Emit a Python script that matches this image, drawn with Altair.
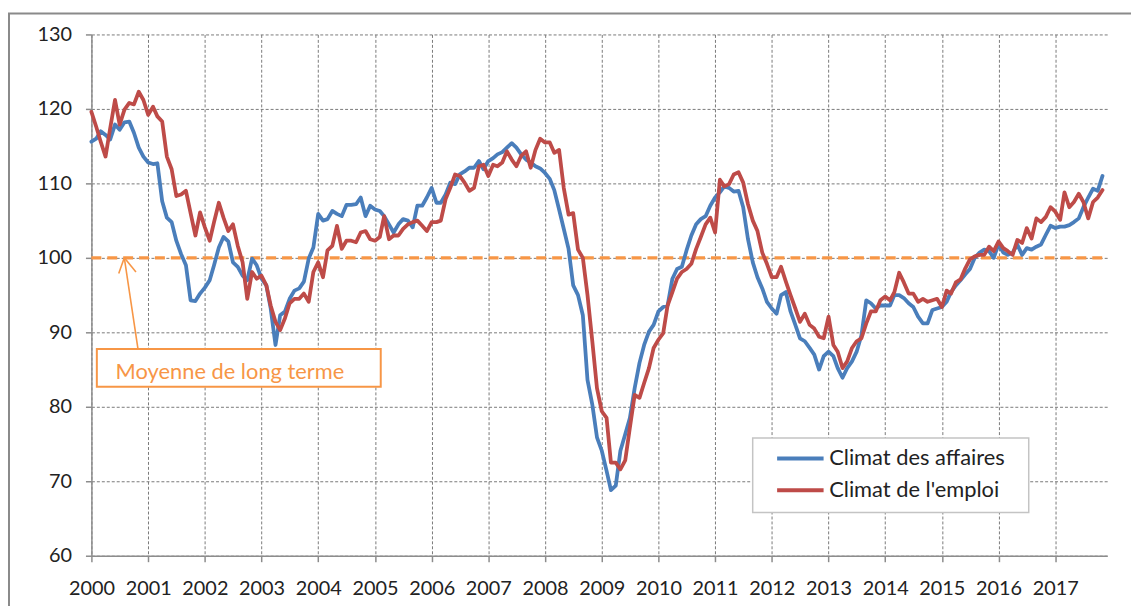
import altair as alt
import pandas as pd

# Monthly values, Jan 2000 .. Nov 2017
climat_affaires = [
    115.6, 116.0, 117.0, 116.5, 115.9, 117.9, 117.2, 118.2, 118.3, 116.8, 114.8, 113.6,  # 2000
    112.8, 112.6, 112.7, 107.6, 105.4, 104.8, 102.3, 100.5, 99.0, 94.3, 94.2, 95.2,      # 2001
    96.0, 97.0, 99.0, 101.4, 102.8, 102.2, 99.4, 98.8, 97.6, 97.0, 99.9, 99.0,           # 2002
    97.2, 96.3, 93.2, 88.3, 92.3, 92.8, 94.5, 95.6, 95.9, 96.8, 99.9, 101.4,             # 2003
    105.9, 105.0, 105.2, 106.3, 105.9, 105.6, 107.1, 107.1, 107.2, 108.1, 105.6, 107.0,  # 2004
    106.5, 106.3, 105.6, 104.5, 103.4, 104.5, 105.2, 105.0, 104.1, 107.0, 107.0, 108.1,  # 2005
    109.4, 107.4, 107.4, 108.5, 110.1, 109.9, 111.2, 111.6, 112.1, 112.1, 113.0, 111.9,  # 2006
    113.0, 113.4, 113.9, 114.2, 114.8, 115.4, 114.8, 113.9, 113.2, 112.8, 112.3, 112.0,  # 2007
    111.4, 110.6, 109.1, 106.5, 103.9, 101.2, 96.3, 95.0, 92.3, 83.6, 80.3, 75.9,        # 2008
    74.1, 71.4, 68.8, 69.4, 74.1, 76.3, 78.5, 82.5, 85.9, 88.3, 90.1, 91.0,              # 2009
    92.8, 93.4, 93.6, 97.2, 98.5, 98.8, 101.0, 103.0, 104.5, 105.2, 105.6, 107.0,        # 2010
    108.1, 108.8, 109.6, 109.4, 108.9, 109.0, 106.8, 102.5, 99.4, 97.4, 95.9, 94.1,      # 2011
    93.2, 92.5, 95.0, 95.4, 92.8, 91.0, 89.2, 88.8, 87.9, 87.0, 85.0, 86.8,              # 2012
    87.4, 86.8, 85.2, 83.9, 85.2, 86.1, 87.4, 89.6, 94.3, 93.9, 93.2, 93.6,              # 2013
    93.6, 93.6, 95.0, 95.0, 94.6, 93.9, 93.4, 92.1, 91.2, 91.2, 93.0, 93.2,              # 2014
    93.4, 94.1, 95.4, 96.3, 97.0, 97.8, 98.5, 100.0, 100.7, 101.1, 100.9, 100.0,         # 2015
    101.8, 100.7, 100.4, 100.7, 101.8, 100.4, 101.3, 101.1, 101.5, 101.8, 103.1, 104.3,  # 2016
    104.0, 104.2, 104.2, 104.4, 104.8, 105.3, 106.8, 108.1, 109.3, 109.0, 111.0,         # 2017
]

climat_emploi = [
    119.6, 117.6, 115.6, 113.6, 117.4, 121.2, 117.9, 119.9, 120.8, 120.6, 122.3, 121.2,  # 2000
    119.2, 120.3, 119.0, 118.3, 113.6, 111.9, 108.3, 108.5, 109.0, 106.0, 103.0, 106.1,  # 2001
    104.1, 102.3, 104.8, 107.4, 105.4, 103.6, 104.5, 101.6, 99.4, 94.5, 98.1, 97.2,      # 2002
    97.6, 96.3, 93.6, 91.4, 90.3, 91.9, 93.9, 94.5, 94.5, 95.2, 94.1, 98.1,              # 2003
    99.4, 97.4, 101.0, 101.6, 104.3, 101.2, 102.3, 102.3, 102.1, 103.4, 103.6, 102.5,    # 2004
    102.3, 102.8, 105.6, 102.5, 103.0, 103.0, 103.9, 104.5, 104.8, 105.0, 104.3, 103.6,  # 2005
    104.8, 104.8, 105.0, 107.9, 109.4, 111.2, 111.0, 110.1, 109.0, 109.4, 112.3, 112.5,  # 2006
    111.0, 112.5, 112.3, 112.8, 114.3, 113.2, 112.3, 113.7, 114.3, 112.1, 114.5, 116.0,  # 2007
    115.5, 115.5, 114.1, 114.5, 109.4, 105.8, 106.0, 101.1, 100.0, 95.0, 88.8, 82.5,     # 2008
    79.4, 78.5, 72.5, 72.5, 71.6, 72.8, 77.2, 81.6, 81.2, 83.2, 85.2, 87.9,              # 2009
    89.0, 89.9, 93.6, 95.4, 97.2, 98.1, 98.5, 99.2, 101.2, 102.8, 104.5, 105.4,          # 2010
    103.4, 110.5, 109.6, 109.9, 111.2, 111.5, 110.1, 107.2, 105.0, 103.6, 100.7, 99.2,   # 2011
    97.4, 97.4, 98.8, 96.8, 95.0, 93.2, 91.4, 92.5, 91.0, 90.5, 89.4, 89.2,              # 2012
    92.1, 88.3, 87.4, 85.2, 86.1, 87.9, 88.8, 89.2, 91.2, 92.8, 92.8, 94.3,              # 2013
    94.8, 94.3, 95.4, 98.0, 96.7, 95.2, 95.2, 94.1, 94.5, 94.1, 94.3, 94.5,              # 2014
    93.4, 95.6, 95.2, 96.7, 97.1, 98.6, 99.8, 100.2, 100.4, 100.4, 101.5, 100.9,         # 2015
    102.2, 101.3, 100.9, 100.4, 102.4, 102.0, 104.0, 102.6, 105.3, 104.8, 105.5, 106.8,  # 2016
    106.2, 105.1, 108.8, 106.8, 107.5, 108.6, 107.5, 105.3, 107.5, 108.1, 109.1,         # 2017
]

series_names = ["Climat des affaires", "Climat de l'emploi"]
series_colors = ["#4A7EBB", "#BE4B48"]
years = list(range(2000, 2018))
y_ticks = [60, 70, 80, 90, 100, 110, 120, 130]

long_term_mean = 100
mean_dates = ["2000-01-01T00:00:00", "2017-11-01T00:00:00"]

note_text = "Moyenne de long terme"
note_box = {"x": "2000-02-05T00:00:00", "x2": "2005-02-07T00:00:00", "y": 87.77, "y2": 82.7}
note_text_pos = {"x": "2000-06-05T00:00:00", "y": 83.75}
arrow_segments = [
    {"x": "2000-07-31T00:00:00", "y": 100.0, "x2": "2000-10-27T00:00:00", "y2": 87.77},
    {"x": "2000-07-31T00:00:00", "y": 100.0, "x2": "2000-06-25T00:00:00", "y2": 97.9},
    {"x": "2000-07-31T00:00:00", "y": 100.0, "x2": "2000-10-14T00:00:00", "y2": 98.1},
]

dates = pd.date_range("2000-01-01", periods=len(climat_affaires), freq="MS")
df = pd.concat([
    pd.DataFrame({"date": dates, "valeur": climat_affaires, "serie": series_names[0]}),
    pd.DataFrame({"date": dates, "valeur": climat_emploi, "serie": series_names[1]}),
])

FONT = "Lato"
ORANGE = "#F79646"

x_scale = alt.Scale(domain=[alt.DateTime(year=2000, month=1, date=1),
                            alt.DateTime(year=2017, month=12, date=1)])
y_scale = alt.Scale(domain=[60, 130], nice=False, zero=False)

x_axis = alt.Axis(
    values=[alt.DateTime(year=y, month=1, date=1) for y in years],
    format="%Y", title=None, labelFontSize=20, labelFont=FONT, labelColor="#222222",
    labelAlign="center", labelPadding=17, tickSize=6, labelFlush=False,
    labelOverlap=False, grid=True,
)
y_axis = alt.Axis(
    values=y_ticks, title=None, labelFontSize=20, labelFont=FONT, labelColor="#222222",
    labelPadding=14, tickSize=6, grid=True,
)

color = alt.Color(
    "serie:N",
    scale=alt.Scale(domain=series_names, range=series_colors),
    legend=alt.Legend(
        orient="none", legendX=694, legendY=407, title=None,
        symbolType="M-1.3,0H1.3", symbolSize=1296, symbolStrokeWidth=4,
        labelFontSize=22, labelFont=FONT, labelColor="#222222", labelOffset=9,
        rowPadding=1, padding=0, labelLimit=400,
    ),
)

one = alt.Data(values=[{"k": 1}])

frame = alt.Chart(one).mark_rect(fillOpacity=0, stroke="#8a8a8a", strokeWidth=2).encode(
    x=alt.value(-83), x2=alt.value(1100), y=alt.value(-21), y2=alt.value(700)
)

legend_box = alt.Chart(one).mark_rect(fill="white", stroke="#c4c4c4", strokeWidth=1.5).encode(
    x=alt.value(666), x2=alt.value(944), y=alt.value(406.5), y2=alt.value(481.5)
)

mean_df = pd.DataFrame({"date": pd.to_datetime(mean_dates), "valeur": [long_term_mean] * 2})
mean_line = alt.Chart(mean_df).mark_line(
    color=ORANGE, strokeWidth=3.2, strokeDash=[10, 6]
).encode(
    x=alt.X("date:T", scale=x_scale, axis=x_axis),
    y=alt.Y("valeur:Q", scale=y_scale, axis=y_axis),
)

box = alt.Chart(alt.Data(values=[note_box])).mark_rect(
    fill="white", stroke=ORANGE, strokeWidth=2
).encode(
    x=alt.X("x:T", scale=x_scale), x2="x2:T",
    y=alt.Y("y:Q", scale=y_scale), y2="y2:Q",
)

arrow = alt.Chart(alt.Data(values=arrow_segments)).mark_rule(
    color=ORANGE, strokeWidth=1.6
).encode(
    x=alt.X("x:T", scale=x_scale), x2="x2:T",
    y=alt.Y("y:Q", scale=y_scale), y2="y2:Q",
)

label = alt.Chart(alt.Data(values=[dict(note_text_pos, t=note_text)])).mark_text(
    align="left", baseline="alphabetic", fontSize=22, font=FONT, color=ORANGE
).encode(
    x=alt.X("x:T", scale=x_scale), y=alt.Y("y:Q", scale=y_scale), text="t:N"
)

def series_layer(name):
    return alt.Chart(df[df["serie"] == name]).mark_line(
        strokeWidth=3.8, strokeJoin="round", strokeCap="round"
    ).encode(
        x=alt.X("date:T", scale=x_scale),
        y=alt.Y("valeur:Q", scale=y_scale),
        color=color,
    )

chart = alt.layer(
    frame, legend_box, box, mean_line, arrow, label,
    series_layer(series_names[0]), series_layer(series_names[1]),
).properties(
    width=1023, height=525,
    autosize=alt.AutoSizeParams(type="none"),
    padding={"left": 84, "top": 24.5, "right": 24, "bottom": 48.5},
    background="white",
).configure_view(
    strokeWidth=0
).configure_axis(
    domainColor="#8c8c8c", domainWidth=1.5, tickColor="#8c8c8c", tickWidth=1.5,
    gridColor="#7a7a7a", gridDash=[3, 2], gridWidth=1,
)

chart.save("out.html", embed_options={"renderer": "svg", "actions": False})
